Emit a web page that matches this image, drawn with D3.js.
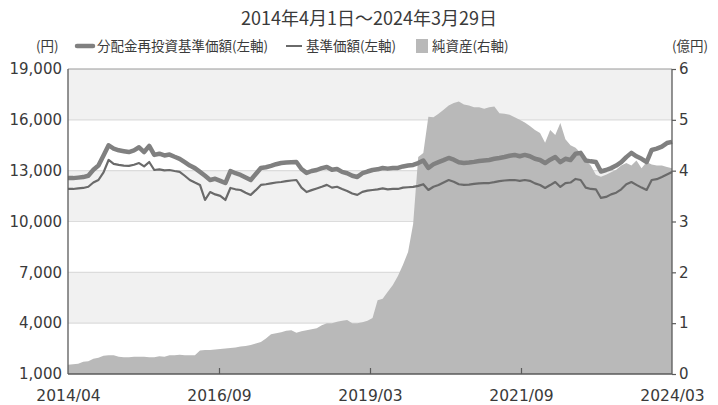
<!DOCTYPE html>
<html><head><meta charset="utf-8">
<script src="https://cdn.jsdelivr.net/npm/d3@7"></script>
<style>
html,body{margin:0;padding:0;background:#fff;}
svg{display:block;font-family:"Noto Sans CJK JP","Noto Sans",sans-serif;}
</style></head>
<body><svg id="c" width="718" height="405"></svg>
<script>
const title = "2014年4月1日～2024年3月29日";
const xTickLabels = ["2014/04","2016/09","2019/03","2021/09","2024/03"];
const leftTicks = [1000,4000,7000,10000,13000,16000,19000];
const rightTicks = [0,1,2,3,4,5,6];
const seriesNames = ["分配金再投資基準価額(左軸)","基準価額(左軸)","純資産(右軸)"];
// monthly values 2014/04 .. 2024/03
const reinvestNav = [12570,12560,12590,12620,12700,13050,13300,13900,14500,14300,
14200,14150,14100,14200,14380,14100,14460,13930,14000,13900,
13950,13820,13700,13500,13300,13150,12930,12700,12450,12520,
12400,12270,12980,12850,12750,12600,12450,12800,13160,13200,
13280,13380,13450,13480,13500,13510,13100,12870,12980,13040,
13150,13220,13050,13100,12930,12850,12700,12630,12850,12950,
13040,13080,13160,13120,13160,13160,13250,13300,13340,13450,
13600,13160,13380,13500,13620,13750,13650,13500,13450,13480,
13520,13570,13600,13630,13700,13750,13810,13880,13930,13850,
13930,13850,13700,13630,13450,13650,13810,13500,13700,13630,
14000,14050,13600,13550,13510,12950,13040,13150,13300,13500,
13800,14050,13850,13700,13510,14220,14300,14420,14630,14700];
const nav = [11920,11920,11960,11980,12050,12300,12450,12900,13630,13400,
13340,13300,13280,13350,13450,13250,13510,13040,13080,13020,
13040,12980,12930,12700,12450,12300,12160,11270,11740,11600,
11510,11270,11980,11900,11860,11700,11570,11850,12160,12200,
12250,12300,12330,12380,12420,12450,12000,11740,11850,11950,
12050,12160,12000,12050,11920,11800,11650,11570,11750,11820,
11860,11900,11950,11900,11920,11920,12000,12020,12040,12100,
12200,11860,12050,12150,12300,12450,12350,12200,12160,12180,
12220,12250,12260,12270,12320,12380,12420,12440,12450,12400,
12450,12400,12250,12150,11980,12150,12330,12040,12270,12300,
12510,12450,12000,11920,11900,11390,11450,11600,11700,11900,
12200,12330,12160,12000,11860,12450,12500,12630,12780,12920];
const netAssets = [0.18,0.19,0.20,0.24,0.25,0.30,0.32,0.36,0.37,0.37,
0.34,0.33,0.33,0.34,0.34,0.34,0.33,0.33,0.35,0.34,
0.37,0.37,0.38,0.37,0.37,0.37,0.46,0.47,0.47,0.48,
0.49,0.50,0.51,0.52,0.54,0.55,0.57,0.60,0.63,0.70,
0.78,0.80,0.82,0.85,0.86,0.81,0.84,0.86,0.88,0.90,
0.96,1.00,1.00,1.03,1.05,1.06,1.00,1.00,1.02,1.05,
1.10,1.45,1.48,1.62,1.75,1.93,2.15,2.40,2.95,4.27,
4.35,5.06,5.05,5.12,5.20,5.28,5.33,5.36,5.30,5.28,
5.25,5.25,5.22,5.25,5.26,5.13,5.12,5.10,5.05,5.00,
4.95,4.88,4.80,4.74,4.55,4.80,4.70,4.94,4.62,4.50,
4.45,4.35,4.20,4.10,3.92,3.88,3.92,3.97,4.02,4.10,
4.15,4.10,4.20,4.05,4.17,4.12,4.10,4.10,4.07,4.05];

const W=718,H=405, m={l:68,r:46,t:69,b:31};
const svg=d3.select("#c");
const n=reinvestNav.length;
const x=d3.scaleLinear().domain([0,n-1]).range([m.l,W-m.r]);
const yL=d3.scaleLinear().domain([1000,19000]).range([H-m.b,m.t]);
const yR=d3.scaleLinear().domain([0,6]).range([H-m.b,m.t]);
const txt="#3a3a3a";
const numFont="'DejaVu Sans','Noto Sans',sans-serif";

// bands
for(let i=0;i<leftTicks.length-1;i++){
  const lo=leftTicks[i], hi=leftTicks[i+1];
  const topIdx=leftTicks.length-2-i;
  svg.append("rect").attr("x",m.l).attr("width",W-m.r-m.l)
    .attr("y",yL(hi)).attr("height",yL(lo)-yL(hi))
    .attr("fill",topIdx%2===0?"#f1f1f1":"#ffffff");
}
// gridlines
svg.append("g").selectAll("line").data(leftTicks.slice(1)).join("line")
  .attr("x1",m.l).attr("x2",W-m.r).attr("y1",d=>yL(d)).attr("y2",d=>yL(d))
  .attr("stroke",d=>d===19000?"#9a9a9a":"#dcdcdc").attr("stroke-width",1.2);

// area
svg.append("path").datum(netAssets)
  .attr("d",d3.area().x((d,i)=>x(i)).y0(yR(0)).y1(d=>yR(d)))
  .attr("fill","#b9b9b9");

// lines
svg.append("path").datum(nav)
  .attr("d",d3.line().x((d,i)=>x(i)).y(d=>yL(d)))
  .attr("fill","none").attr("stroke","#6a6a6a").attr("stroke-width",2.2).attr("stroke-linejoin","round");
svg.append("path").datum(reinvestNav)
  .attr("d",d3.line().x((d,i)=>x(i)).y(d=>yL(d)))
  .attr("fill","none").attr("stroke","#808080").attr("stroke-width",4.5).attr("stroke-linejoin","round");

// axes
const axL=svg.append("g").attr("transform",`translate(${m.l},0)`)
  .call(d3.axisLeft(yL).tickValues(leftTicks).tickFormat(d3.format(",")).tickSize(0).tickPadding(6));
const axR=svg.append("g").attr("transform",`translate(${W-m.r},0)`)
  .call(d3.axisRight(yR).tickValues(rightTicks).tickFormat(d3.format("d")).tickSize(4).tickPadding(3));
const xtv=xTickLabels.map((d,i)=>i*(n-1)/(xTickLabels.length-1));
const axB=svg.append("g").attr("transform",`translate(0,${H-m.b})`)
  .call(d3.axisBottom(x).tickValues(xtv).tickFormat((d,i)=>xTickLabels[i]).tickSize(-6).tickPadding(16));
[axL,axR,axB].forEach(a=>{
  a.select(".domain").attr("stroke","#5a5a5a").attr("stroke-width",1.3);
  a.selectAll(".tick line").attr("stroke","#5a5a5a").attr("stroke-width",1.2);
  a.selectAll("text").attr("fill",txt).attr("font-size",15).attr("font-family",numFont);
});
axB.selectAll("text").attr("font-size",15.5);
axL.select(".domain").attr("d",`M0,${m.t}V${H-m.b}`);
axR.select(".domain").attr("d",`M0,${m.t}V${H-m.b}`);
axB.select(".domain").attr("d",`M${m.l},0H${W-m.r}`);
axB.selectAll(".tick").filter((d,i)=>i===0||i===xtv.length-1).select("line").remove();

// title
svg.append("text").attr("x",369).attr("y",25).attr("text-anchor","middle")
  .attr("font-size",18).attr("fill",txt).text(title);
// units
svg.append("text").attr("x",36).attr("y",51).attr("font-size",13.5).attr("fill",txt).text("(円)");
svg.append("text").attr("x",672).attr("y",51).attr("font-size",13.5).attr("fill",txt).text("(億円)");
// legend
const lg=svg.append("g");
lg.append("line").attr("x1",77).attr("x2",93).attr("y1",46).attr("y2",46)
  .attr("stroke","#808080").attr("stroke-width",4.5).attr("stroke-linecap","round");
lg.append("text").attr("x",97).attr("y",51).attr("font-size",13.5).attr("fill",txt).text(seriesNames[0]);
lg.append("line").attr("x1",286).attr("x2",302).attr("y1",46).attr("y2",46)
  .attr("stroke","#6a6a6a").attr("stroke-width",2);
lg.append("text").attr("x",306).attr("y",51).attr("font-size",13.5).attr("fill",txt).text(seriesNames[1]);
lg.append("rect").attr("x",416).attr("y",39).attr("width",12).attr("height",14).attr("fill","#b9b9b9");
lg.append("text").attr("x",432).attr("y",51).attr("font-size",13.5).attr("fill",txt).text(seriesNames[2]);
</script></body></html>
